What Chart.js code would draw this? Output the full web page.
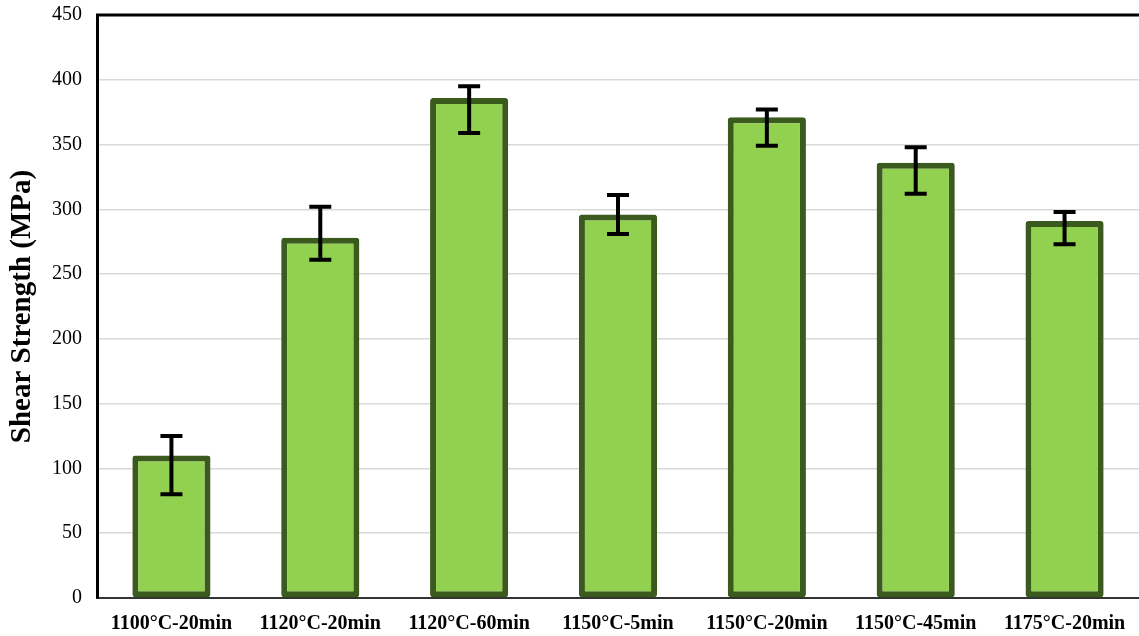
<!DOCTYPE html>
<html>
<head>
<meta charset="utf-8">
<script src="https://cdn.jsdelivr.net/npm/chart.js@4.4.0/dist/chart.umd.min.js"></script>
<style>
  html, body { margin: 0; padding: 0; background: #fff; }
  #wrap { width: 1139px; height: 636px; }
</style>
</head>
<body>
<div id="wrap"><canvas id="shear" width="1139" height="636"></canvas></div>
<script>
// brazing condition and measured shear strength (MPa)
const conditions = ['1100°C-20min', '1120°C-20min', '1120°C-60min', '1150°C-5min', '1150°C-20min', '1150°C-45min', '1175°C-20min'];
const strength = [110, 278, 386, 296, 371, 336, 291];
const errUp = [15, 24, 9, 15, 6, 12, 7];
const errDown = [30, 17, 27, 15, 22, 24, 18];
const yTicks = [0, 50, 100, 150, 200, 250, 300, 350, 400, 450];

// draws the +/- error bars with caps on top of each bar
const errorBars = {
  id: 'errorBars',
  afterDatasetsDraw(chart) {
    const ctx = chart.ctx;
    const meta = chart.getDatasetMeta(0);
    const y = chart.scales.y;
    ctx.save();
    ctx.strokeStyle = '#000';
    ctx.lineWidth = 4;
    ctx.lineCap = 'butt';
    meta.data.forEach((bar, i) => {
      const x = bar.x;
      const top = y.getPixelForValue(strength[i] + errUp[i]);
      const bot = y.getPixelForValue(strength[i] - errDown[i]);
      ctx.beginPath();
      ctx.moveTo(x, top); ctx.lineTo(x, bot);
      ctx.moveTo(x - 11, top); ctx.lineTo(x + 11, top);
      ctx.moveTo(x - 11, bot); ctx.lineTo(x + 11, bot);
      ctx.stroke();
    });
    ctx.restore();
  }
};

// black frame line along the top of the plot area
const topBorder = {
  id: 'topBorder',
  afterDraw(chart) {
    const { ctx, chartArea } = chart;
    ctx.save();
    ctx.strokeStyle = '#000';
    ctx.lineWidth = 3;
    ctx.beginPath();
    ctx.moveTo(chartArea.left - 1, chartArea.top);
    ctx.lineTo(chartArea.right + 5, chartArea.top);
    ctx.stroke();
    ctx.restore();
  }
};

new Chart(document.getElementById('shear'), {
  type: 'bar',
  data: {
    labels: conditions,
    datasets: [{
      data: strength,
      backgroundColor: '#92D050',
      borderColor: '#3A5A1E',
      borderWidth: 6,
      borderRadius: 3,
      borderSkipped: false,
      categoryPercentage: 1,
      barPercentage: 0.525
    }]
  },
  options: {
    responsive: false,
    animation: false,
    layout: { padding: { top: 15, right: 0, bottom: 0, left: 0 } },
    plugins: {
      legend: { display: false },
      tooltip: { enabled: false }
    },
    scales: {
      x: {
        grid: { display: false, drawTicks: false },
        border: { display: true, color: '#333', width: 2 },
        ticks: {
          color: '#000',
          padding: 14,
          font: { family: 'Liberation Serif', size: 20, weight: 'bold' }
        },
        afterFit(scale) { scale.height = 38; scale.paddingLeft = 0; scale.paddingRight = 0; }
      },
      y: {
        min: 0,
        max: 450,
        afterBuildTicks(scale) { scale.ticks = yTicks.map(v => ({ value: v })); },
        grid: { color: '#D9D9D9', lineWidth: 1.5, drawTicks: false },
        border: { display: true, color: '#000', width: 3 },
        ticks: {
          color: '#000',
          padding: 15,
          font: { family: 'Liberation Serif', size: 20 }
        },
        title: {
          display: true,
          text: 'Shear Strength (MPa)',
          color: '#000',
          padding: { top: 5, bottom: 0 },
          font: { family: 'Liberation Serif', size: 29, weight: 'bold' }
        },
        afterFit(scale) { scale.width = 97; scale.paddingTop = 0; scale.paddingBottom = 0; }
      }
    }
  },
  plugins: [errorBars, topBorder]
});
</script>
</body>
</html>
